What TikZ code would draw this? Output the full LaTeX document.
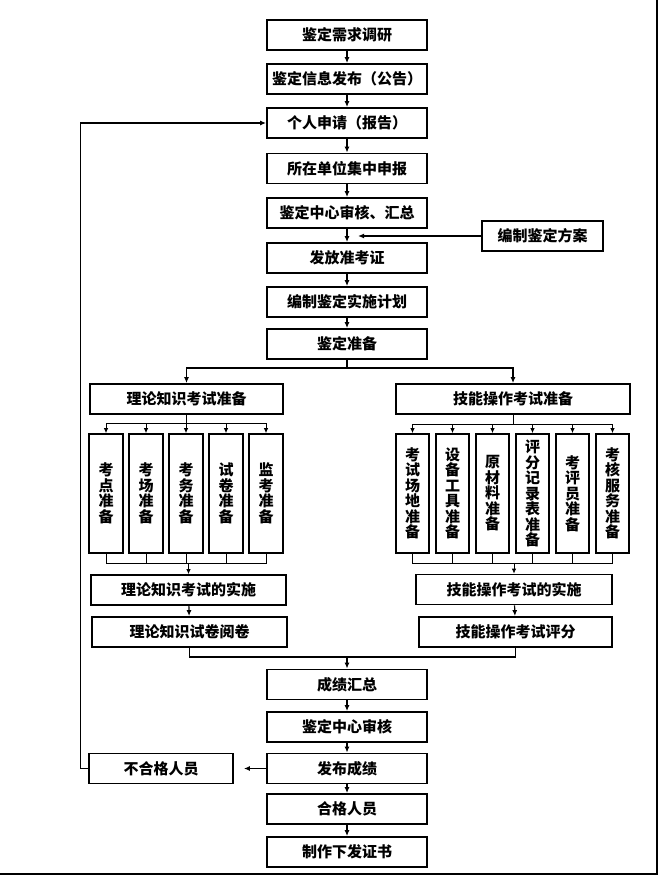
\documentclass[tikz,border=0pt]{standalone}
\usepackage{fontspec}
\newfontfamily\cjk{Noto Sans CJK SC}
\usetikzlibrary{arrows.meta}
\begin{document}
\begin{tikzpicture}[x=1pt,y=-1pt,
 box/.style={draw, line width=1.8pt, inner sep=0pt, minimum height=30pt, font=\cjk\bfseries\fontsize{15}{18}\selectfont},
 mbox/.style={box, minimum width=160pt},
 vbox/.style={draw, line width=1.8pt, inner sep=0pt, align=center, minimum height=119pt, font=\cjk\bfseries\fontsize{15}{15.5}\selectfont},
 arr/.style={line width=1.2pt, -{Latex[length=6pt,width=5pt]}},
 ln/.style={line width=1.2pt},
 tln/.style={line width=0.8pt},
 tarr/.style={line width=0.8pt, -{Latex[length=5pt,width=4.5pt]}}
]
\useasboundingbox (0,0) rectangle (658,875);
% frame
\draw[line width=1.5pt] (0,874) -- (657,874) -- (657,0);
% main column
\node[mbox] (n1) at (347,35) {鉴定需求调研};
\node[mbox] (n2) at (347,79) {鉴定信息发布（公告）};
\node[mbox] (n3) at (347,123) {个人申请（报告）};
\node[mbox] (n4) at (347,168.5) {所在单位集中申报};
\node[mbox] (n5) at (347,213) {鉴定中心审核、汇总};
\node[mbox] (n6) at (347,258) {发放准考证};
\node[mbox] (n7) at (347,302) {编制鉴定实施计划};
\node[mbox] (n8) at (347,344) {鉴定准备};
\node[box, minimum width=121pt] (fa) at (542.5,236) {编制鉴定方案};
\coordinate (c1) at (358,236);
\draw[arr] (n1) -- (n2);
\draw[arr] (n2) -- (n3);
\draw[arr] (n3) -- (n4);
\draw[arr] (n4) -- (n5);
\draw[arr] (n5) -- (n6);
\draw[arr] (fa.west) -- (c1);
\draw[arr] (n6) -- (n7);
\draw[arr] (n7) -- (n8);
% two branches
\node[box, minimum width=193pt] (lz) at (186.5,399) {理论知识考试准备};
\node[box, minimum width=234pt] (jz) at (513,399) {技能操作考试准备};
\coordinate (s1) at (347,368);
\draw[ln] (n8) -- (s1);
\draw[arr] (s1) -| (lz);
\draw[arr] (s1) -| (jz);
% left sub boxes
\node[vbox, minimum width=34pt] (la) at (106,493.5) {考\\点\\准\\备};
\node[vbox, minimum width=34pt] (lb) at (146,493.5) {考\\场\\准\\备};
\node[vbox, minimum width=34pt] (lc) at (186,493.5) {考\\务\\准\\备};
\node[vbox, minimum width=34pt] (ld) at (226,493.5) {试\\卷\\准\\备};
\node[vbox, minimum width=34pt] (le) at (266,493.5) {监\\考\\准\\备};
% right sub boxes
\node[vbox, minimum width=33pt] (ra) at (412.5,493.5) {考\\试\\场\\地\\准\\备};
\node[vbox, minimum width=33pt] (rb) at (452.5,493.5) {设\\备\\工\\具\\准\\备};
\node[vbox, minimum width=33pt] (rc) at (492.5,493.5) {原\\材\\料\\准\\备};
\node[vbox, minimum width=33pt] (rd) at (532.5,493.5) {评\\分\\记\\录\\表\\准\\备};
\node[vbox, minimum width=33pt] (re) at (572.5,493.5) {考\\评\\员\\准\\备};
\node[vbox, minimum width=33pt] (rf) at (612.5,493.5) {考\\核\\服\\务\\准\\备};
% fan-out
\draw[tln] (lz.south) -- ++(0,8) coordinate (t1);
\foreach \b in {la,lb,lc,ld,le} \draw[tarr] (t1) -| (\b.north);
\draw[tln] (jz.south) -- ++(0,9) coordinate (t2);
\foreach \b in {ra,rb,rc,rd,re,rf} \draw[tarr] (t2) -| (\b.north);
% implementation boxes
\node[box, minimum width=195pt] (ls) at (188.5,590) {理论知识考试的实施};
\node[box, minimum width=195pt] (ly) at (189.5,632) {理论知识试卷阅卷};
\node[box, minimum width=196pt] (js) at (514,589.5) {技能操作考试的实施};
\node[box, minimum width=193pt] (jp) at (515.5,632) {技能操作考试评分};
% fan-in left
\path (la.south) ++(0,9) coordinate (ua);
\draw[tln] (la.south) -- (ua) -- (le.south |- ua) -- (le.south);
\foreach \b in {lb,lc,ld} \draw[tln] (\b.south) -- (\b.south |- ua);
\draw[tarr] (ls.north |- ua) -- (ls.north);
% fan-in right
\path (ra.south) ++(0,9) coordinate (ub);
\draw[tln] (ra.south) -- (ub) -- (rf.south |- ub) -- (rf.south);
\foreach \b in {rb,rc,rd,re} \draw[tln] (\b.south) -- (\b.south |- ub);
\draw[tarr] (js.north |- ub) -- (js.north);
\draw[arr] (ls) -- (ly);
\draw[arr] (js) -- (jp);
% results
\node[mbox] (m1) at (347,684.5) {成绩汇总};
\node[mbox] (m2) at (347,727) {鉴定中心审核};
\node[mbox] (m3) at (347,768.5) {发布成绩};
\node[mbox] (m4) at (347,809) {合格人员};
\node[mbox] (m5) at (347,852) {制作下发证书};
\node[box, minimum width=144pt] (bh) at (161,768.5) {不合格人员};
\draw[ln] (ly.south) -- ++(0,9) coordinate (v1) -| (jp.south);
\draw[arr] (v1 -| m1.north) -- (m1.north);
\draw[arr] (m1) -- (m2);
\draw[arr] (m2) -- (m3);
\draw[arr] (m3) -- (m4);
\draw[arr] (m4) -- (m5);
\draw[arr, shorten >=10pt] (m3.west) -- (bh.east);
\draw[arr] (bh.west) -- ++(-8,0) coordinate (fb) |- (n3.west);
\end{tikzpicture}
\end{document}
